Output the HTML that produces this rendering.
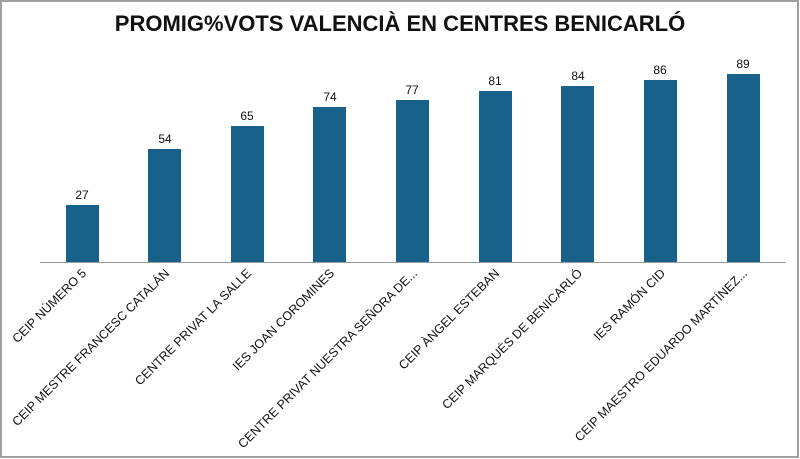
<!DOCTYPE html><html><head><meta charset="utf-8"><style>body{margin:0;background:#fff}svg{display:block}</style></head><body>
<svg width="800" height="459" xmlns="http://www.w3.org/2000/svg" font-family="Liberation Sans, sans-serif">
<rect x="1" y="1" width="797" height="456" fill="#fff" stroke="#a0a0a0" stroke-width="2"/>
<text x="400" y="31" text-anchor="middle" font-size="22" font-weight="bold" fill="#111">PROMIG%VOTS VALENCIÀ EN CENTRES BENICARLÓ</text>
<line x1="40" y1="262.5" x2="786" y2="262.5" stroke="#999" stroke-width="1"/>
<g fill="#17618a">
<rect x="66" y="205" width="33" height="57"/>
<rect x="148" y="149" width="33" height="113"/>
<rect x="231" y="126" width="33" height="136"/>
<rect x="313" y="107" width="33" height="155"/>
<rect x="396" y="100" width="33" height="162"/>
<rect x="479" y="91" width="33" height="171"/>
<rect x="561" y="86" width="33" height="176"/>
<rect x="644" y="80" width="33" height="182"/>
<rect x="727" y="74" width="33" height="188"/>
</g>
<g font-size="12" text-anchor="middle" fill="#111">
<text x="82" y="199">27</text><text x="165" y="143">54</text><text x="247" y="120">65</text><text x="330" y="101">74</text><text x="412" y="94">77</text><text x="495" y="85">81</text><text x="578" y="80">84</text><text x="660" y="74">86</text><text x="743" y="68">89</text>
</g>
<g font-size="12.5" text-anchor="end" fill="#111">
<text transform="translate(87,274) rotate(-45)">CEIP NÚMERO 5</text>
<text transform="translate(170,274) rotate(-45)">CEIP MESTRE FRANCESC CATALÁN</text>
<text transform="translate(252,274) rotate(-45)">CENTRE PRIVAT LA SALLE</text>
<text transform="translate(335,274) rotate(-45)">IES JOAN COROMINES</text>
<text transform="translate(418,274) rotate(-45)">CENTRE PRIVAT NUESTRA SEÑORA DE...</text>
<text transform="translate(500,274) rotate(-45)">CEIP ÀNGEL ESTEBAN</text>
<text transform="translate(583,274) rotate(-45)">CEIP MARQUÉS DE BENICARLÓ</text>
<text transform="translate(666,274) rotate(-45)">IES RAMÓN CID</text>
<text transform="translate(748,274) rotate(-45)">CEIP MAESTRO EDUARDO MARTÍNEZ...</text>
</g>
</svg>
</body></html>
